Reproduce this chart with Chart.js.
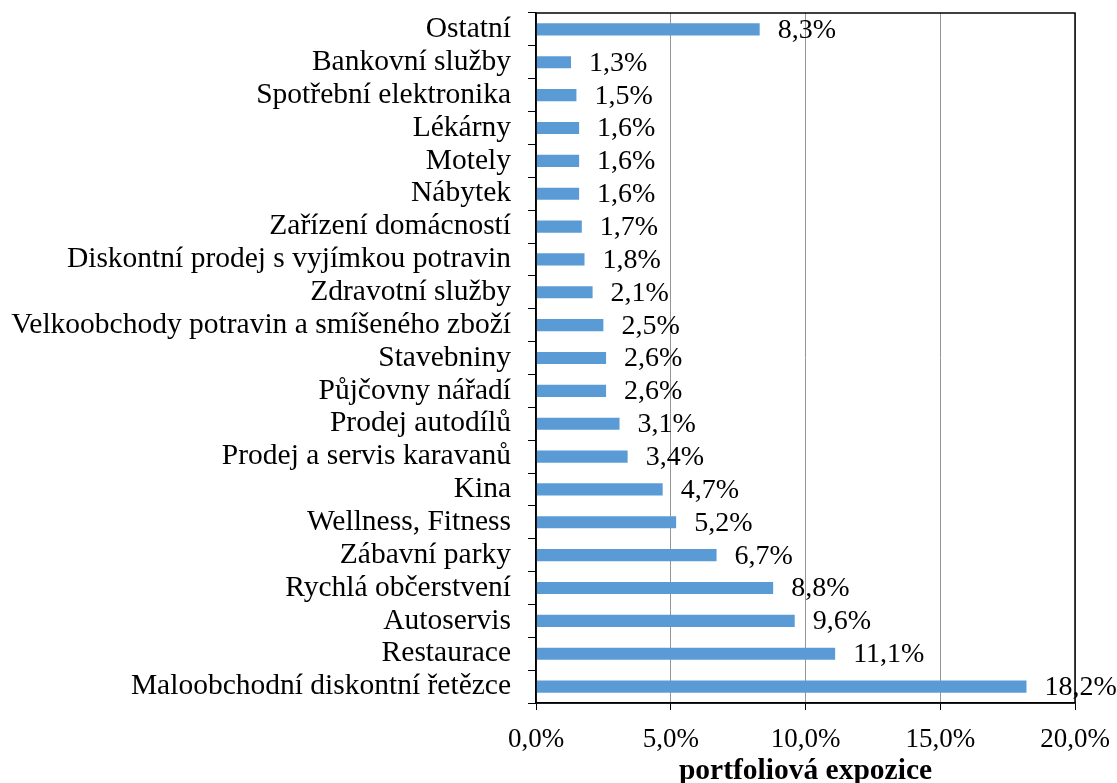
<!DOCTYPE html>
<html>
<head>
<meta charset="utf-8">
<script src="https://cdn.jsdelivr.net/npm/chart.js@4"></script>
<style>
  html, body { margin: 0; padding: 0; background: #fff; }
  #wrap { width: 1117px; height: 783px; }
</style>
</head>
<body>
<div id="wrap"><canvas id="chart"></canvas></div>
<script>
const categories = [
  'Ostatní',
  'Bankovní služby',
  'Spotřební elektronika',
  'Lékárny',
  'Motely',
  'Nábytek',
  'Zařízení domácností',
  'Diskontní prodej s vyjímkou potravin',
  'Zdravotní služby',
  'Velkoobchody potravin a smíšeného zboží',
  'Stavebniny',
  'Půjčovny nářadí',
  'Prodej autodílů',
  'Prodej a servis karavanů',
  'Kina',
  'Wellness, Fitness',
  'Zábavní parky',
  'Rychlá občerstvení',
  'Autoservis',
  'Restaurace',
  'Maloobchodní diskontní řetězce',
];
const exposure = [
  8.3, 1.3, 1.5, 1.6, 1.6, 1.6, 1.7, 1.8, 2.1, 2.5, 2.6,
  2.6, 3.1, 3.4, 4.7, 5.2, 6.7, 8.8, 9.6, 11.1, 18.2,
];
const xTicks = [0, 5, 10, 15, 20];

const FONT = "'Liberation Serif', 'Times New Roman', serif";

function pct(v) {
  return v.toFixed(1).replace('.', ',') + '%';
}

// draws the value next to each bar and the box round the plot
const valueLabels = {
  id: 'valueLabels',
  afterDatasetsDraw(chart) {
    const ctx = chart.ctx;
    const meta = chart.getDatasetMeta(0);
    ctx.save();
    ctx.font = '28px ' + FONT;
    ctx.fillStyle = '#000';
    ctx.textBaseline = 'middle';
    ctx.textAlign = 'left';
    meta.data.forEach((bar, i) => {
      ctx.fillText(pct(exposure[i]), bar.x + 18, bar.y + 1);
    });
    const a = chart.chartArea;
    ctx.strokeStyle = '#000';
    ctx.lineWidth = 1.5;
    ctx.strokeRect(a.left, a.top, a.right - a.left, a.bottom - a.top);
    ctx.restore();
  },
};

const ctx = document.getElementById('chart').getContext('2d');

new Chart(ctx, {
  type: 'bar',
  data: {
    labels: categories,
    datasets: [
      {
        data: exposure,
        backgroundColor: '#5b9bd5',
        borderWidth: 0,
        categoryPercentage: 1,
        barPercentage: 0.37,
      },
    ],
  },
  options: {
    indexAxis: 'y',
    responsive: true,
    maintainAspectRatio: false,
    animation: false,
    layout: {
      padding: { top: 13, right: 42, bottom: 0, left: 0 },
    },
    plugins: {
      legend: { display: false },
      tooltip: { enabled: false },
    },
    scales: {
      x: {
        min: 0,
        max: 20,
        afterBuildTicks: axis => {
          axis.ticks = xTicks.map(v => ({ value: v }));
        },
        afterFit: axis => {
          axis.height = 80;
          axis.paddingLeft = 0;
          axis.paddingRight = 0;
        },
        ticks: {
          color: '#000',
          font: { family: FONT, size: 27 },
          padding: 14,
          maxRotation: 0,
          callback: v => pct(v),
        },
        grid: {
          color: '#969696',
          lineWidth: 1,
          tickColor: '#000',
          tickLength: 7,
        },
        border: { display: true, color: '#000', width: 1.5 },
        title: {
          display: true,
          text: 'portfoliová expozice',
          color: '#000',
          font: { family: FONT, size: 29.5, weight: 'bold' },
          padding: { top: 0, bottom: -6 },
        },
      },
      y: {
        afterFit: axis => {
          axis.width = 536;
          axis.paddingTop = 0;
          axis.paddingBottom = 0;
        },
        ticks: {
          color: '#000',
          font: { family: FONT, size: 29.5 },
          padding: 17,
          autoSkip: false,
        },
        grid: {
          offset: true,
          drawOnChartArea: false,
          tickColor: '#000',
          tickLength: 8,
        },
        border: { display: true, color: '#000', width: 1.5 },
      },
    },
  },
  plugins: [valueLabels],
});
</script>
</body>
</html>
